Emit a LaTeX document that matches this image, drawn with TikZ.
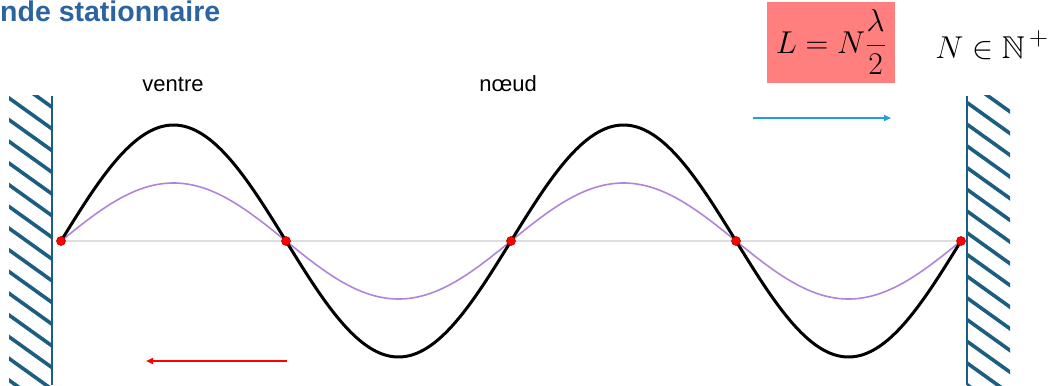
\documentclass[tikz,border=0pt]{standalone}
\usepackage{amsmath,amssymb}
\usepackage{fontspec}
\newfontfamily\arialfont{Liberation Sans}
\usetikzlibrary{arrows.meta,positioning}
\definecolor{wallblue}{HTML}{1B5E82}
\definecolor{titleblue}{HTML}{2B64A0}
\definecolor{boxpink}{HTML}{FF7F7F}
\definecolor{wavepurple}{HTML}{B084D8}
\definecolor{arrowblue}{HTML}{1EA0DC}
\newcommand{\bigeq}[1]{\scalebox{1.27}{\fontsize{24.88}{30}\selectfont$\displaystyle #1$}}

\begin{document}
\begin{tikzpicture}[x=1pt, y=-1pt, >={Triangle[length=7pt, width=6pt]},
  dot/.style={circle, fill=red, draw=red!75!black, line width=0.6pt, minimum size=9pt, inner sep=0pt},
  lbl/.style={font=\arialfont\fontsize{22}{26}\selectfont},
  hatch/.style={wallblue, line width=3.6pt},
  wave/.style={line width=3pt, line join=round},
  slowwave/.style={wavepurple, line width=1.6pt}]
  \useasboundingbox (0,0) rectangle (1048,385);
  % title and formula
  \node[anchor=base west, inner sep=0pt, text=titleblue,
    font=\arialfont\bfseries\fontsize{28.5}{32}\selectfont] (titre) at (0,22) {nde stationnaire};
  \node[fill=boxpink, minimum width=128pt, minimum height=81pt] (loi) at (831,42.5) {\bigeq{L = N\frac{\lambda}{2}}};
  \node (ens) at (992,45) {\bigeq{N \in \mathbb{N}^{\,+}}};
  % walls
  \begin{scope}
    \clip (9,96) rectangle (52,390);
    \foreach \k in {-3,...,14} \draw[hatch] (0,91.6+21.7*\k) -- ++(60,43);
  \end{scope}
  \begin{scope}
    \clip (967,96) rectangle (1010,390);
    \foreach \k in {-3,...,14} \draw[hatch] (955,94+21.7*\k) -- ++(60,43);
  \end{scope}
  \draw[wallblue, line width=2pt] (52,96) -- (52,385);
  \draw[wallblue, line width=2pt] (967,96) -- (967,385);
  % string and waves
  \coordinate (c0) at (61,241);
  \coordinate (c1) at (286,241);
  \coordinate (c2) at (511,241);
  \coordinate (c3) at (736,241);
  \coordinate (c4) at (961,241);
  \draw[black!13, line width=2pt] (c0) -- (c4);
  \draw[slowwave] plot[domain=61:961, samples=181, smooth] (\x, {241-58*sin(0.8*(\x-61))});
  \draw[wave] plot[domain=61:961, samples=181, smooth] (\x, {241-116*sin(0.8*(\x-61))});
  \node[dot] (p0) at (c0) {};
  \node[dot] (p1) at (c1) {};
  \node[dot] (p2) at (c2) {};
  \node[dot] (p3) at (c3) {};
  \node[dot] (p4) at (c4) {};
  \node[lbl] (ventre) at (173,84) {ventre};
  \node[lbl] (noeud) at (508,84) {nœud};
  % travelling directions
  \coordinate (b1) at (753,118);
  \coordinate (b2) at (891,118);
  \draw[->, arrowblue, line width=1.8pt] (b1) -- (b2);
  \coordinate (r1) at (287,361);
  \coordinate (r2) at (146,361);
  \draw[->, red, line width=1.8pt] (r1) -- (r2);
\end{tikzpicture}
\end{document}
